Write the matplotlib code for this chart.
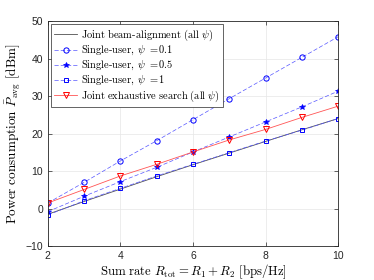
import matplotlib
matplotlib.use("Agg")
import matplotlib.pyplot as plt

plt.rcParams['mathtext.fontset'] = 'cm'
plt.rcParams['font.family'] = ['Liberation Sans', 'DejaVu Sans']

rates = [2, 3, 4, 5, 6, 7, 8, 9, 10]
joint_beam = [-1.5, 1.9, 5.2, 8.5, 11.7, 14.8, 17.9, 21.0, 24.0]
single_01 = [1.5, 7.0, 12.7, 18.1, 23.7, 29.3, 34.8, 40.3, 45.8]
single_05 = [-0.8, 3.3, 7.2, 11.0, 15.1, 19.1, 23.1, 27.1, 31.3]
single_1 = [-1.7, 2.1, 5.4, 8.7, 11.8, 14.9, 18.0, 20.9, 24.0]
joint_exh = [1.5, 5.1, 8.7, 11.8, 15.1, 18.3, 21.1, 24.3, 27.3]

xticks = [2, 4, 6, 8, 10]
yticks = [-10, 0, 10, 20, 30, 40, 50]

fig = plt.figure(figsize=(3.74, 2.8), dpi=100)
ax = fig.add_axes([0.128, 0.121, 0.776, 0.804])

ax.plot(rates, joint_beam, color='#505050', lw=0.6, label=r'$\mathrm{Joint\ beam\text{-}alignment\ (all}\ \psi)$')
ax.plot(rates, single_01, color='#5555ff', lw=0.5, ls=(0, (6, 3)), marker='o', ms=3.8,
        mfc='none', mec='blue', mew=0.7, label=r'$\mathrm{Single\text{-}user,}\ \psi\ =\!0.1$')
ax.plot(rates, single_05, color='#5555ff', lw=0.5, ls=(0, (6, 3)), marker='*', ms=4.2,
        mfc='blue', mec='blue', mew=0.5, label=r'$\mathrm{Single\text{-}user,}\ \psi\ =\!0.5$')
ax.plot(rates, single_1, color='#5555ff', lw=0.5, ls=(0, (6, 3)), marker='s', ms=3.2,
        mfc='none', mec='blue', mew=0.7, label=r'$\mathrm{Single\text{-}user,}\ \psi\ =\!1$')
ax.plot(rates, joint_exh, color='#ff5555', lw=0.6, marker='v', ms=4.2,
        mfc='none', mec='red', mew=0.7, label=r'$\mathrm{Joint\ exhaustive\ search\ (all}\ \psi)$')

ax.set_xlim(2, 10)
ax.set_ylim(-10, 50)
ax.set_xticks(xticks)
ax.set_yticks(yticks)
ax.tick_params(direction='in', length=3, width=0.5, labelsize=7.5, colors='#262626', top=True, right=True)
ax.grid(True, color='#e6e6e6', lw=0.5)
for s in ax.spines.values():
    s.set_linewidth(0.6)
    s.set_color('#262626')

ax.set_xlabel(r'$\mathrm{Sum\ rate}\ R_{\rm tot} = R_1 + R_2\ \mathrm{[bps/Hz]}$', fontsize=9.2, labelpad=1)
ax.set_ylabel(r'$\mathrm{Power\ consumption}\ \bar{P}_{\rm avg}\ \mathrm{[dBm]}$', fontsize=9.5, labelpad=2)

leg = ax.legend(loc='upper left', fontsize=7.5, handlelength=2.2, handletextpad=0.4,
                borderpad=0.3, labelspacing=0.15, fancybox=False, framealpha=1,
                edgecolor='#262626', borderaxespad=0.3)
leg.get_frame().set_linewidth(0.5)

fig.savefig('out.png', dpi=100)
